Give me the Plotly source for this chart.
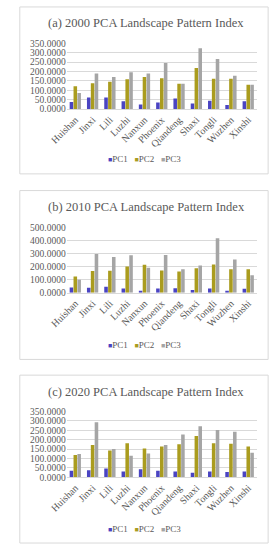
import plotly.graph_objects as go

towns = ["Huishan", "Jinxi", "Lili", "Luzhi", "Nanxun", "Phoenix",
         "Qiandeng", "Shaxi", "Tongli", "Wuzhen", "Xinshi"]

pc1_2000 = [38, 61, 61, 42, 24, 35, 56, 30, 44, 21, 42]
pc2_2000 = [122, 138, 145, 159, 170, 164, 135, 219, 161, 161, 130]
pc3_2000 = [86, 189, 170, 196, 189, 245, 135, 324, 266, 177, 130]

pc1_2010 = [40, 38, 45, 32, 12, 32, 35, 20, 32, 15, 30]
pc2_2010 = [125, 168, 170, 202, 215, 172, 163, 188, 218, 180, 180]
pc3_2010 = [100, 298, 275, 288, 192, 290, 180, 210, 420, 255, 135]

pc1_2020 = [35, 37, 47, 30, 42, 35, 30, 24, 31, 28, 31]
pc2_2020 = [118, 171, 143, 181, 153, 164, 176, 220, 181, 178, 164]
pc3_2020 = [124, 293, 150, 115, 127, 171, 228, 272, 251, 242, 131]

titles = ["(a) 2000 PCA Landscape Pattern Index",
          "(b) 2010 PCA Landscape Pattern Index",
          "(c) 2020 PCA Landscape Pattern Index"]
series_names = ["PC1", "PC2", "PC3"]
colors = ["#4a44c2", "#aa9c1e", "#a5a5a5"]

W, H = 270, 550
FONT = "Liberation Serif"
TXT = "#595959"

panels = [
    dict(data=[pc1_2000, pc2_2000, pc3_2000], box=(2, 172), plot=(39, 106),
         title_y=18, legend_y=157, rmax=350, dtick=50),
    dict(data=[pc1_2010, pc2_2010, pc3_2010], box=(189, 361), plot=(227, 293),
         title_y=206, legend_y=346, rmax=500, dtick=100),
    dict(data=[pc1_2020, pc2_2020, pc3_2020], box=(377, 548), plot=(414, 481),
         title_y=394, legend_y=534, rmax=350, dtick=50),
]

def py(pix):
    return 1 - pix / H

fig = go.Figure()
layout = dict(width=W, height=H, margin=dict(l=0, r=0, t=0, b=0),
              paper_bgcolor="white", plot_bgcolor="white",
              barmode="group", bargap=0.33, bargroupgap=0.08,
              showlegend=False,
              font=dict(family=FONT, color=TXT),
              shapes=[], annotations=[])

legend_text = "   ".join(
    f"<span style='color:{c};font-size:7px'>■</span><span style='color:{TXT}'>{n}</span>"
    for c, n in zip(colors, series_names))

x0, x1 = 53 / W, 256 / W
for i, p in enumerate(panels):
    sfx = "" if i == 0 else str(i + 1)
    for j in range(3):
        fig.add_trace(go.Bar(x=towns, y=p["data"][j], name=series_names[j],
                             marker=dict(color=colors[j], line=dict(width=0)),
                             xaxis="x" + sfx, yaxis="y" + sfx))
    layout["xaxis" + sfx] = dict(domain=[x0, x1], anchor="y" + sfx,
                                 tickangle=-45, tickfont=dict(size=10, family=FONT, color=TXT),
                                 showline=True, linecolor="#d9d9d9", ticks="",
                                 showgrid=False)
    layout["yaxis" + sfx] = dict(domain=[py(p["plot"][1]), py(p["plot"][0])],
                                 anchor="x" + sfx, range=[0, p["rmax"]], dtick=p["dtick"],
                                 tickformat=".4f", gridcolor="#d9d9d9", gridwidth=1,
                                 zeroline=False, showline=False,
                                 tickfont=dict(size=9.5, family=FONT, color=TXT))
    layout["shapes"].append(dict(type="rect", xref="paper", yref="paper",
                                 x0=3 / W, x1=268 / W, y0=py(p["box"][1]), y1=py(p["box"][0]),
                                 line=dict(color="#d9d9d9", width=1)))
    layout["annotations"].append(dict(text=titles[i], xref="paper", yref="paper",
                                      x=138 / W, y=py(p["title_y"]), xanchor="center",
                                      yanchor="middle", showarrow=False,
                                      font=dict(size=12.5, family=FONT, color=TXT)))
    layout["annotations"].append(dict(text=legend_text, xref="paper", yref="paper",
                                      x=136 / W, y=py(p["legend_y"]), xanchor="center",
                                      yanchor="middle", showarrow=False,
                                      font=dict(size=9, family=FONT, color=TXT)))

fig.update_layout(**layout)
fig.write_html("out.html", config={"displayModeBar": False},
               post_script="document.body.style.margin='0';document.body.style.overflow='hidden';")
